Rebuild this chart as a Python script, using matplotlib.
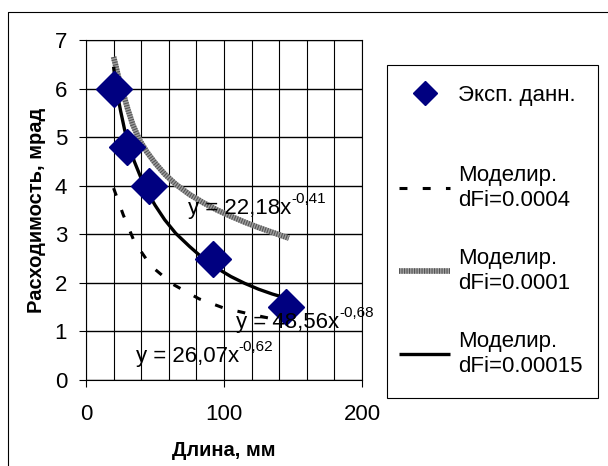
import matplotlib
matplotlib.use("Agg")
import matplotlib.pyplot as plt
from matplotlib.lines import Line2D
from matplotlib.patches import Rectangle
from matplotlib.ticker import MultipleLocator

plt.rcParams["font.family"] = ["Liberation Sans", "DejaVu Sans"]
plt.rcParams.update({
    "axes.grid": True,
    "axes.grid.which": "both",
    "axes.axisbelow": True,
    "grid.color": "black",
    "grid.linewidth": 0.8,
    "grid.alpha": 1.0,
    "axes.linewidth": 0.8,
    "xtick.labelsize": 16,
    "ytick.labelsize": 16,
    "xtick.direction": "out",
    "ytick.direction": "out",
    "xtick.major.size": 5,
    "ytick.major.size": 5,
    "xtick.major.width": 0.8,
    "ytick.major.width": 0.8,
    "xtick.minor.size": 0,
    "ytick.minor.size": 0,
    "xtick.major.pad": 12,
    "ytick.major.pad": 8.5,
})

# experimental points
exp_x = [20, 30, 46, 92, 145]
exp_y = [6.0, 4.8, 4.0, 2.5, 1.5]

# simulated, dFi=0.0004 (dashed)
sim4_x = [20, 27, 35, 47, 63, 82, 100, 120, 145]
sim4_y = [3.95, 3.4, 2.85, 2.35, 1.97, 1.67, 1.48, 1.35, 1.2]

# simulated, dFi=0.0001 (grey)
sim1_x = [20, 22, 24, 27, 30, 34, 39, 44, 50, 57, 65, 75, 85, 95, 105, 115, 125, 135, 147]
sim1_y = [6.65, 6.42, 6.18, 5.9, 5.6, 5.25, 4.93, 4.7, 4.47, 4.24, 4.03, 3.82, 3.65, 3.5, 3.37, 3.25, 3.14, 3.04, 2.92]

# simulated, dFi=0.00015 (black)
sim15_x = [20, 21, 23, 25, 28, 31, 35, 40, 45, 50, 57, 65, 75, 85, 95, 105, 115, 125, 135, 147]
sim15_y = [6.45, 6.2, 5.85, 5.55, 5.15, 4.85, 4.5, 4.15, 3.85, 3.6, 3.3, 3.02, 2.75, 2.5, 2.3, 2.13, 1.99, 1.87, 1.77, 1.67]

exp_label = "Эксп. данн."
sim_labels = ["Моделир.\ndFi=0.0004", "Моделир.\ndFi=0.0001", "Моделир.\ndFi=0.00015"]

# trendline equations: (main text, exponent, x, y)
trend_labels = [
    ("y = 22,18x", "-0,41", 74, 3.42),
    ("y = 48,56x", "-0,68", 109, 1.07),
    ("y = 26,07x", "-0,62", 36, 0.37),
]

W, H = 608, 466
fig = plt.figure(figsize=(W / 100, H / 100), dpi=100)
ax = fig.add_axes([86 / W, 1 - 380 / H, (362 - 86) / W, (380 - 40) / H])

h_sim4, = ax.plot(sim4_x, sim4_y, color="black", lw=2.2, dashes=(2.6, 5.0), zorder=3)
# grey series has a striped look: light base with a dense darker dash on top
h_sim1a, = ax.plot(sim1_x, sim1_y, color="#a0a0a0", lw=4.0, zorder=3, solid_capstyle="butt")
h_sim1b, = ax.plot(sim1_x, sim1_y, color="#555555", lw=4.0, dashes=(0.2, 0.25), zorder=3)
h_sim15, = ax.plot(sim15_x, sim15_y, color="black", lw=2.4, zorder=4, solid_capstyle="butt")
h_exp, = ax.plot(exp_x, exp_y, ls="none", marker="D", ms=18, color="#000080", zorder=5)

for main, sup, tx, ty in trend_labels:
    t = ax.text(tx, ty, main, fontsize=16, va="baseline", ha="left", zorder=6, clip_on=False)
    ax.annotate(sup, xy=(1.0, 0.62), xycoords=t, fontsize=11, va="bottom", ha="left",
                annotation_clip=False, zorder=6)

ax.set_xlim(0, 200)
ax.set_ylim(0, 7)
ax.xaxis.set_major_locator(MultipleLocator(100))
ax.xaxis.set_minor_locator(MultipleLocator(20))
ax.yaxis.set_major_locator(MultipleLocator(1))
ax.yaxis.grid(True, which="major", color="black", linewidth=1.0)

ax.set_xlabel("Длина, мм", fontsize=14.5, fontweight="bold", labelpad=12)
ax.set_ylabel("Расходимость, мрад", fontsize=14.5, fontweight="bold", labelpad=6.5)

# legend frame drawn separately so the padding can match the original box
box_l, box_t, box_r, box_b = 387, 65, 598, 398
fig.add_artist(Rectangle((box_l / W, 1 - box_b / H), (box_r - box_l) / W, (box_b - box_t) / H,
                         transform=fig.transFigure, fill=False, edgecolor="black", lw=0.8))
leg_kw = dict(loc="center left", borderaxespad=0, fontsize=16, frameon=False, borderpad=0.55,
              handlelength=2.3, handletextpad=0.35)
fig.legend([h_exp], [exp_label], bbox_to_anchor=(box_l / W, 1 - 95 / H),
           markerscale=0.68, **leg_kw)
fig.legend([h_sim4, (h_sim1a, h_sim1b), h_sim15], sim_labels,
           bbox_to_anchor=(box_l / W, 1 - 271 / H), labelspacing=1.7, **leg_kw)

# chart area border (only the top and left edges fall inside the image)
fig.add_artist(Line2D([8 / W, 8 / W, 1], [0, 1 - 12 / H, 1 - 12 / H],
                      transform=fig.transFigure, color="black", lw=0.8))

fig.savefig("out.png", dpi=100)
